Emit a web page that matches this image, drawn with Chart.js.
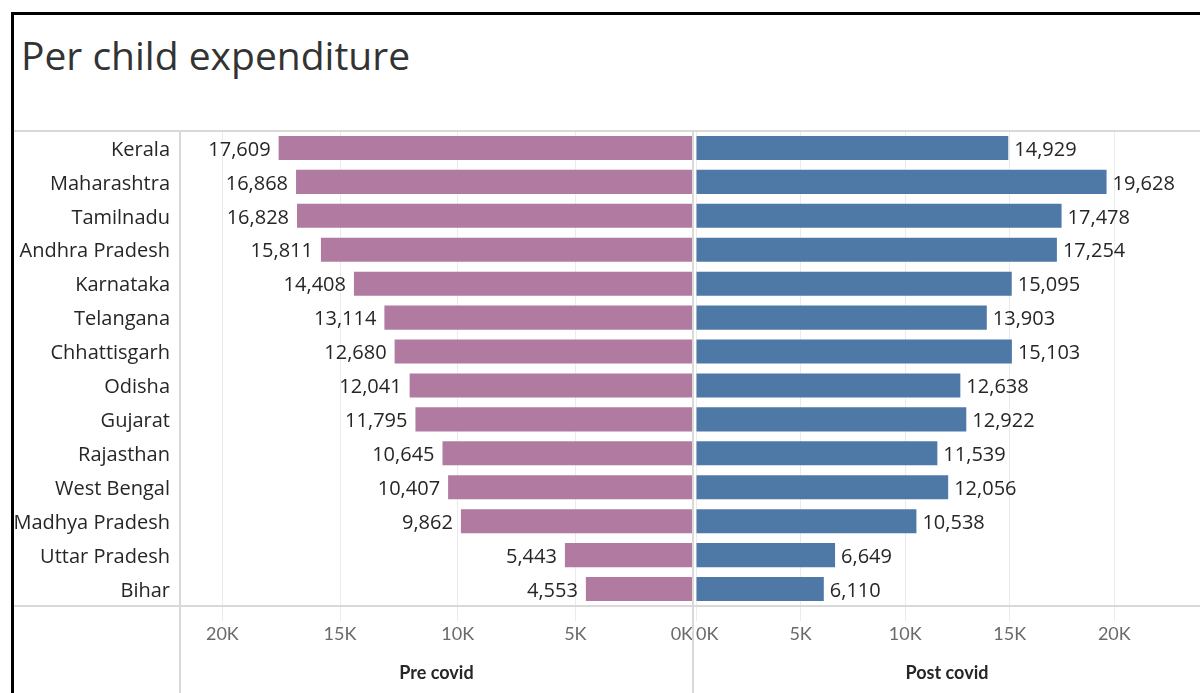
<!DOCTYPE html>
<html>
<head>
<meta charset="utf-8">
<title>Per child expenditure</title>
<script src="https://cdn.jsdelivr.net/npm/chart.js@4.4.1/dist/chart.umd.min.js"></script>
<style>
  body { margin: 0; background: #fff; font-family: "Open Sans", sans-serif; }
  #page { position: relative; width: 1200px; height: 693px; overflow: hidden; }
  .frame { position: absolute; left: 11px; top: 12px; width: 1300px; height: 800px;
           border-left: 3px solid #000; border-top: 3px solid #000; }
  h1 { position: absolute; left: 21px; top: 35px; margin: 0; font-size: 39px;
       font-weight: 400; line-height: 40px; color: #333; white-space: nowrap; }
  .rule { position: absolute; background: #d9d9d9; }
  canvas { position: absolute; }
</style>
</head>
<body>
<div id="page">
  <div class="frame"></div>
  <h1>Per child expenditure</h1>
  <canvas id="pre-chart" width="680" height="562" style="left:14px; top:131px;"></canvas>
  <canvas id="post-chart" width="506" height="562" style="left:694px; top:131px;"></canvas>
  <div class="rule" style="left:14px; top:130px; width:1186px; height:2px;"></div>
  <div class="rule" style="left:14px; top:605px; width:1186px; height:2px;"></div>
  <div class="rule" style="left:179px; top:131px; width:2px; height:562px;"></div>
  <div class="rule" style="left:692px; top:131px; width:2px; height:562px;"></div>
</div>
<script>
        // states in display order, top to bottom
        var states = ['Kerala', 'Maharashtra', 'Tamilnadu', 'Andhra Pradesh', 'Karnataka', 'Telangana',
            'Chhattisgarh', 'Odisha', 'Gujarat', 'Rajasthan', 'West Bengal', 'Madhya Pradesh',
            'Uttar Pradesh', 'Bihar'];

        var preCovid = [17609, 16868, 16828, 15811, 14408, 13114, 12680, 12041, 11795, 10645, 10407, 9862, 5443, 4553];
        var postCovid = [14929, 19628, 17478, 17254, 15095, 13903, 15103, 12638, 12922, 11539, 12056, 10538, 6649, 6110];

        var tickValues = [0, 5000, 10000, 15000, 20000];
        var preMax = 21800;
        var postMax = 24000;

        var gridColor = '#ebebeb';
        var textColor = '#262626';
        var labelFont = '"Open Sans"';

        // prints the value next to the end of every bar
        var valueLabels = {
            id: 'valueLabels',
            afterDatasetsDraw(chart, args, opts) {
                var ctx = chart.ctx;
                var values = chart.data.datasets[0].data;
                ctx.save();
                ctx.font = '20px ' + labelFont;
                ctx.fillStyle = textColor;
                ctx.textBaseline = 'middle';
                ctx.textAlign = opts.side === 'left' ? 'right' : 'left';
                chart.getDatasetMeta(0).data.forEach((bar, i) => {
                    var x = opts.side === 'left' ? bar.x - 8 : bar.x + 6;
                    ctx.fillText(values[i].toLocaleString('en-US'), x, bar.y + 2);
                });
                ctx.restore();
            }
        };

        function xAxis(max, reverse, title) {
            return {
                type: 'linear',
                min: 0,
                max: max,
                reverse: reverse,
                afterBuildTicks: (scale) => {
                    scale.ticks = tickValues.concat([max]).map(v => ({ value: v }));
                },
                afterFit: (scale) => { scale.height = 87; },
                border: { display: false },
                grid: {
                    color: (c) => (c.tick && tickValues.includes(c.tick.value)) ? gridColor : 'rgba(0,0,0,0)',
                    tickLength: 15,
                    lineWidth: 1
                },
                ticks: {
                    align: 'inner',
                    padding: 2,
                    maxRotation: 0,
                    color: '#6a6a6a',
                    font: { family: 'Lato', size: 18 },
                    callback: (v) => tickValues.includes(v) ? (v / 1000) + 'K' : ''
                },
                title: {
                    display: true,
                    text: title,
                    color: textColor,
                    font: { family: 'Lato', size: 18, weight: 'bold' },
                    padding: { top: 0, bottom: 9 }
                }
            };
        }

        var preConfig = {
            type: 'bar',
            data: {
                labels: states,
                datasets: [{
                    data: preCovid,
                    backgroundColor: '#B07AA1',
                    categoryPercentage: 1,
                    barPercentage: 0.71,
                    label: 'Pre covid'
                }]
            },
            options: {
                indexAxis: 'y',
                responsive: false,
                animation: false,
                devicePixelRatio: 1,
                layout: { padding: { left: 0, right: 1, top: 0, bottom: 0 } },
                plugins: {
                    legend: { display: false },
                    tooltip: { enabled: false },
                    valueLabels: { side: 'left' }
                },
                scales: {
                    x: xAxis(preMax, true, 'Pre covid'),
                    y: {
                        afterFit: (scale) => {
                            scale.width = 166;
                            // keep the rows flush with the top rule
                            scale.paddingTop = 0;
                            scale.paddingBottom = 0;
                        },
                        border: { display: false },
                        grid: { display: false, drawTicks: false },
                        ticks: {
                            padding: 10,
                            labelOffset: 2,
                            color: textColor,
                            font: { family: 'Open Sans', size: 20 }
                        }
                    }
                }
            },
            plugins: [valueLabels]
        };

        var postConfig = {
            type: 'bar',
            data: {
                labels: states,
                datasets: [{
                    data: postCovid,
                    backgroundColor: '#4E79A7',
                    categoryPercentage: 1,
                    barPercentage: 0.71,
                    label: 'Post covid'
                }]
            },
            options: {
                indexAxis: 'y',
                responsive: false,
                animation: false,
                devicePixelRatio: 1,
                layout: { padding: { left: 1, right: 0, top: 0, bottom: 0 } },
                plugins: {
                    legend: { display: false },
                    tooltip: { enabled: false },
                    valueLabels: { side: 'right' }
                },
                scales: {
                    x: xAxis(postMax, false, 'Post covid'),
                    y: { display: false }
                }
            },
            plugins: [valueLabels]
        };

        new Chart(document.getElementById('pre-chart').getContext('2d'), preConfig);
        new Chart(document.getElementById('post-chart').getContext('2d'), postConfig);
</script>
</body>
</html>
